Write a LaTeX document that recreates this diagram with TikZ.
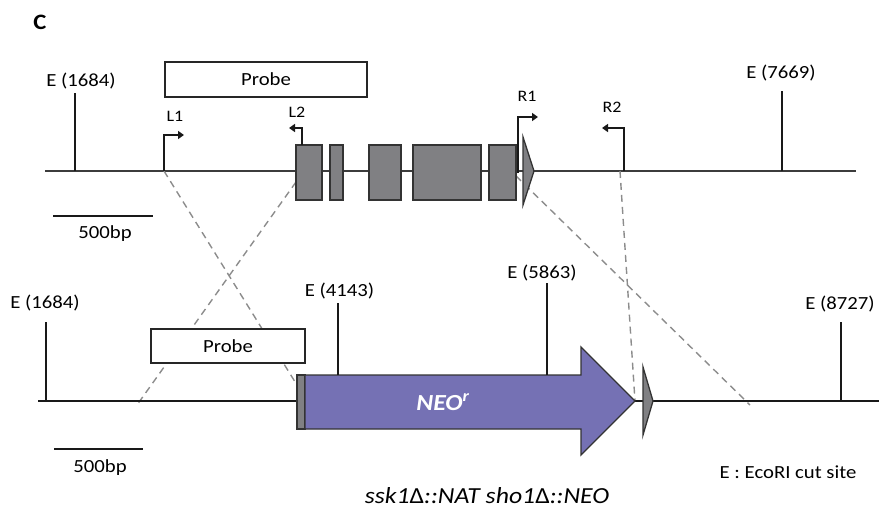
\documentclass[tikz,border=0pt]{standalone}
\usepackage{fontspec}
\setmainfont{Carlito}[FakeStretch=1.12]
\usetikzlibrary{arrows.meta}
\definecolor{exongray}{RGB}{128,128,131}
\definecolor{neofill}{RGB}{117,113,180}
\definecolor{dashgray}{RGB}{140,140,140}
\definecolor{linegray}{RGB}{60,60,60}
\begin{document}
\begin{tikzpicture}[x=1pt,y=-1pt,
  tick/.style={line width=1.7pt, black!90},
  dnatop/.style={line width=1.2pt, linegray},
  dnabot/.style={line width=1.8pt, black!90},
  exon/.style={draw=black!80, fill=exongray, line width=1.3pt},
  probebox/.style={draw=black!85, fill=white, line width=1.3pt, inner sep=0,
    font=\fontsize{18.5}{20}\selectfont},
  swap/.style={dash pattern=on 7pt off 5pt, dashgray, line width=1.4pt},
  primer/.style={line width=1.7pt, black!90, -{Triangle[length=6pt,width=8pt]}},
  lbl/.style={inner sep=0, font=\fontsize{18.5}{20}\selectfont},
  plbl/.style={inner sep=0, font=\fontsize{16}{18}\selectfont}]
\useasboundingbox (0,0) rectangle (879,517);

\node[inner sep=0, font=\fontsize{22}{24}\selectfont\bfseries] (panel) at (40,22) {C};

% ---------- wild-type locus ----------
\coordinate (tl) at (45,171);
\coordinate (tr) at (856,171);
\draw[dnatop] (tl) -- (tr);

% crossover guides (drawn under the genes)
\coordinate (l1) at (164,171);
\coordinate (x1) at (296,182);
\coordinate (r1s) at (516,176);
\coordinate (r2s) at (620,171);
\coordinate (gbl) at (297,385);
\coordinate (bl) at (137,405);
\coordinate (br) at (750,405);
\coordinate (tipb) at (635,401);
\draw[swap] (l1) -- (gbl);
\draw[swap] (x1) -- (bl);
\draw[swap] (r1s) -- (br);
\draw[swap] (r2s) -- (tipb);

% EcoRI sites
\coordinate (e1b) at (75,171);  \coordinate (e1t) at (75,93);
\draw[tick] (e1b) -- (e1t);
\node[lbl] (e1) at (81,81) {E (1684)};
\coordinate (e2b) at (782,171); \coordinate (e2t) at (782,91);
\draw[tick] (e2b) -- (e2t);
\node[lbl] (e2) at (781,73) {E (7669)};

% probe
\node[probebox, minimum width=202, minimum height=35] (probe1) at (266,79.5) {Probe};

% exons
\draw[exon] (296,145) rectangle (322,200);
\draw[exon] (330,145) rectangle (343,200);
\draw[exon] (369,145) rectangle (401,200);
\draw[exon] (413,145) rectangle (481,200);
\draw[exon] (489,145) rectangle (516,200);
\coordinate (t1a) at (523,137);
\coordinate (t1b) at (534,171);
\coordinate (t1c) at (523,205);
\draw[exon] (t1a) -- (t1b) -- (t1c) -- cycle;

% primers
\coordinate (l1e) at (184,135);
\draw[primer] (l1) |- (l1e);
\node[plbl] (l1t) at (175,116) {L1};
\coordinate (l2s) at (302,145); \coordinate (l2e) at (289,128);
\draw[primer] (l2s) |- (l2e);
\node[plbl] (l2t) at (297,112) {L2};
\coordinate (r1b) at (518,173); \coordinate (r1e) at (538,117);
\draw[primer] (r1b) |- (r1e);
\node[plbl] (r1t) at (527,96) {R1};
\coordinate (r2b) at (624,171); \coordinate (r2e) at (602,128);
\draw[primer] (r2b) |- (r2e);
\node[plbl] (r2t) at (612,107) {R2};

% scale bar
\coordinate (s1a) at (53,216); \coordinate (s1b) at (153,216);
\draw[tick] (s1a) -- (s1b);
\node[lbl] (s1t) at (105,234) {500bp};

% ---------- deletion allele ----------
\coordinate (bl0) at (38,401);
\coordinate (br0) at (879,401);
\draw[dnabot] (bl0) -- (br0);

\coordinate (f1b) at (46,401); \coordinate (f1t) at (46,322);
\draw[tick] (f1b) -- (f1t);
\node[lbl] (f1) at (45,303) {E (1684)};

\node[probebox, minimum width=154, minimum height=34] (probe2) at (228,346) {Probe};

\draw[exon] (297,375) rectangle (305,429);
\draw[draw=black!80, fill=neofill, line width=1.3pt]
  (305,375) -- (581,375) -- (581,347) -- (635,401) -- (581,455) -- (581,429) -- (305,429) -- cycle;
\node[inner sep=0, text=white, font=\fontsize{23}{25}\selectfont\bfseries\itshape] (neo) at (443,402) {NEO\textsuperscript{r}};

\coordinate (f2b) at (338,375); \coordinate (f2t) at (338,303);
\draw[tick] (f2b) -- (f2t);
\node[lbl] (f2) at (339.5,291) {E (4143)};
\coordinate (f3b) at (547,375); \coordinate (f3t) at (547,283);
\draw[tick] (f3b) -- (f3t);
\node[lbl] (f3) at (542,273) {E (5863)};

\coordinate (t2a) at (643,367);
\coordinate (t2b) at (653,401);
\coordinate (t2c) at (643,435);
\draw[exon] (t2a) -- (t2b) -- (t2c) -- cycle;

\coordinate (f4b) at (841,401); \coordinate (f4t) at (841,322);
\draw[tick] (f4b) -- (f4t);
\node[lbl] (f4) at (840,304) {E (8727)};

\coordinate (s2a) at (54,449); \coordinate (s2b) at (143,449);
\draw[tick] (s2a) -- (s2b);
\node[lbl] (s2t) at (100,468) {500bp};

\node[lbl] (key) at (788,472) {E : EcoRI cut site};
\node[inner sep=0, font=\fontsize{23}{25}\selectfont] (caption) at (487,496)
  {\textit{ssk1}Δ\textit{::NAT sho1}Δ\textit{::NEO}};
\end{tikzpicture}
\end{document}
